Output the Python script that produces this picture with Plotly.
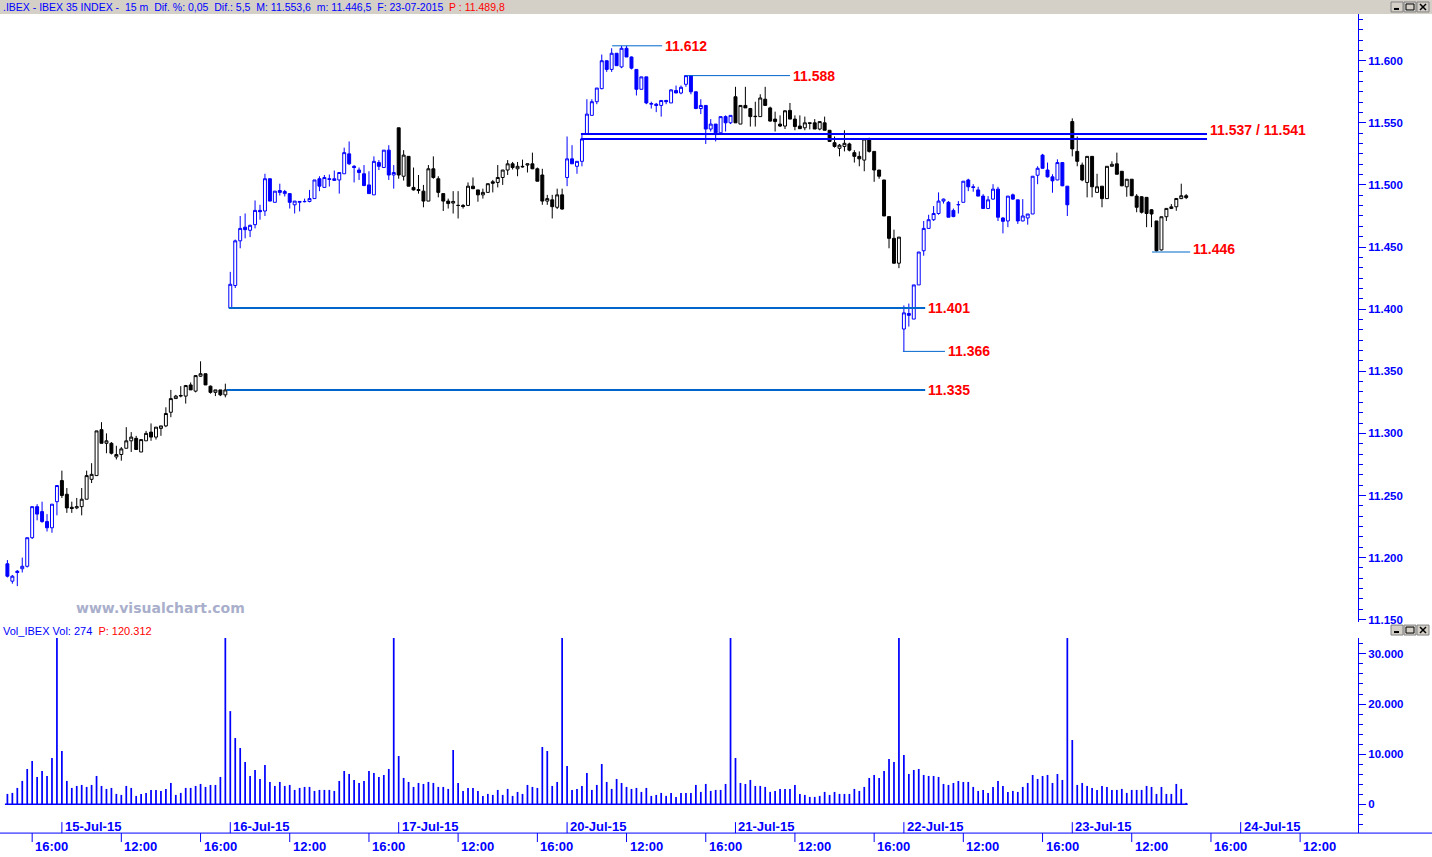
import plotly.graph_objects as go

W, H = 1432, 857

# ---------------- data ----------------
session_labels = ['14-Jul-15', '15-Jul-15', '16-Jul-15', '17-Jul-15', '20-Jul-15',
                  '21-Jul-15', '22-Jul-15', '23-Jul-15', '24-Jul-15']
first_session_bars = 11          # 14-Jul: 14:45 .. 17:15
bars_per_session = 34            # 09:00 .. 17:15, 15 m bars
time_tick_labels = ['12:00', '16:00']

opens = [11195, 11181, 11189, 11191, 11193, 11216, 11241, 11237, 11229, 11224, 11245,
         11262, 11251, 11240.5, 11240, 11241, 11247, 11263, 11266, 11303, 11292, 11292, 11281, 11283, 11288, 11294, 11296, 11285, 11294, 11301, 11297, 11304, 11306, 11317, 11328, 11330, 11330, 11339, 11334, 11346, 11348, 11338, 11333, 11335, 11331,
         11401, 11419, 11455, 11466, 11463.5, 11468, 11479.5, 11479, 11505, 11486, 11495.5, 11493, 11493, 11484, 11486, 11486.5, 11486.7, 11489, 11505, 11498, 11505, 11503.6, 11504, 11509, 11525, 11515, 11512, 11509, 11500, 11492, 11518, 11514, 11528, 11508,
         11546, 11507, 11523, 11498, 11496.3, 11495, 11487, 11513, 11505, 11493, 11487, 11485.4, 11483.5, 11483.5, 11483.5, 11499, 11496, 11492, 11494, 11502.5, 11502, 11506, 11512, 11517, 11513, 11515, 11516, 11517, 11513, 11508, 11487, 11488, 11482, 11492,
         11506, 11521, 11515, 11519, 11541, 11556, 11567, 11577.5, 11600, 11593, 11606, 11595, 11610, 11603, 11593, 11577, 11587, 11565, 11565, 11564, 11568, 11566, 11576, 11574, 11581, 11588, 11575, 11561.5, 11564, 11545, 11549, 11542, 11555, 11550,
         11571, 11549, 11564, 11561.5, 11555, 11555, 11569, 11562, 11553, 11549, 11547.4, 11560, 11553, 11547.4, 11546, 11550, 11550, 11545, 11550, 11544, 11534, 11529.5, 11531, 11533, 11526, 11523, 11520, 11537, 11527, 11512, 11504, 11474.5, 11457, 11437,
         11384, 11396.5, 11392, 11419.5, 11447, 11465, 11472, 11477, 11487, 11486, 11479.5, 11484, 11486, 11504, 11498.5, 11496, 11491, 11481, 11488.6, 11496.6, 11473.4, 11471, 11492, 11488, 11471, 11473.4, 11476.6, 11507.8, 11524, 11512, 11506.5, 11504, 11518, 11499,
         11551, 11527, 11516, 11502, 11523, 11494, 11499, 11489, 11515, 11517, 11511, 11498.5, 11504.6, 11491, 11490.5, 11490, 11480, 11471, 11447.7, 11474.4, 11481, 11482.4, 11489, 11491.3]
highs = [11198, 11186, 11190, 11200, 11216, 11241, 11243, 11245, 11235, 11243, 11258,
         11270, 11256, 11245, 11248, 11256, 11270, 11276, 11302, 11309, 11300, 11293, 11290, 11289, 11305, 11301, 11298, 11295, 11302, 11308, 11305, 11306, 11321, 11335, 11331, 11338, 11339, 11341, 11347, 11358, 11348, 11338.5, 11335, 11335, 11340,
         11430, 11456, 11475, 11477, 11468, 11487.5, 11484, 11509, 11505, 11495, 11501, 11496, 11493, 11487, 11487, 11489, 11496, 11504, 11507, 11508, 11508.4, 11511.6, 11510, 11530, 11535, 11516, 11514, 11516, 11511, 11523, 11520, 11528, 11532, 11516,
         11546, 11528, 11523, 11514, 11508, 11500, 11516, 11523, 11507, 11493, 11489, 11495, 11495, 11484.6, 11502, 11506, 11496, 11497, 11501, 11504, 11516, 11512, 11520, 11518.5, 11518.5, 11520.4, 11517, 11526, 11514, 11513, 11492, 11492, 11497, 11497,
         11539, 11532, 11519, 11541, 11569, 11569, 11578, 11605, 11600, 11610, 11606, 11612, 11612, 11603.4, 11593, 11587, 11587, 11567, 11566, 11568, 11568.5, 11577, 11580, 11580, 11588, 11588, 11575, 11569, 11564, 11553, 11549, 11555, 11556, 11556,
         11579, 11564, 11579, 11562, 11567, 11573, 11579, 11563, 11559, 11556, 11560, 11566, 11556, 11556, 11555, 11550, 11553, 11551, 11555, 11544, 11539, 11533, 11544, 11534, 11528, 11527, 11537, 11538, 11527, 11512, 11504, 11474.5, 11464, 11458,
         11403, 11404.5, 11419.5, 11446, 11471, 11476, 11483, 11494, 11489, 11487, 11481, 11487, 11503, 11505, 11500.6, 11498.5, 11492.6, 11491, 11500.6, 11498.5, 11474, 11491, 11493, 11488, 11488.6, 11476.6, 11507, 11515, 11525, 11518, 11508.6, 11520.6, 11518, 11499,
         11553.6, 11539, 11518, 11523, 11523, 11509, 11499, 11515, 11519, 11526, 11511, 11504.6, 11504.6, 11492.6, 11491, 11490, 11480.6, 11471, 11474.4, 11481.1, 11484.6, 11489.1, 11501, 11492.6]
lows = [11184, 11179, 11177, 11188, 11192, 11215, 11230, 11228, 11221, 11220, 11234,
        11248, 11236, 11236, 11239, 11234, 11247, 11260, 11266, 11292, 11284, 11283, 11279, 11278, 11288, 11285, 11287, 11285, 11294, 11294, 11295, 11298, 11305, 11313, 11328, 11329, 11324, 11335, 11333, 11345.5, 11339, 11332, 11330, 11330, 11329,
        11401, 11417, 11449, 11457, 11458, 11465, 11472, 11475, 11487, 11486, 11491.5, 11490.7, 11481, 11477, 11478.7, 11486, 11486, 11489, 11495, 11498, 11498.7, 11503.6, 11493, 11509, 11516, 11502, 11504, 11499, 11493, 11492, 11512, 11514, 11504, 11497,
        11505, 11503.5, 11499, 11495.5, 11493, 11482, 11487, 11505, 11490, 11479, 11481, 11477, 11473, 11481, 11483, 11496.6, 11486.5, 11489, 11494, 11494, 11498, 11500, 11508, 11512.4, 11507, 11514, 11510, 11512.7, 11503, 11484, 11484, 11473, 11480.6, 11480,
        11499, 11517, 11509, 11515, 11541, 11556, 11565, 11577, 11591, 11591, 11596, 11594, 11603, 11593, 11572, 11577, 11565, 11561.5, 11558.6, 11555, 11565, 11566, 11574, 11573, 11579, 11573, 11561, 11557, 11533, 11543, 11535, 11542, 11543, 11549,
        11550, 11549, 11562, 11547, 11547, 11555, 11564, 11551, 11543, 11546.6, 11545, 11553, 11544, 11545, 11544, 11544.7, 11545, 11544, 11544, 11535, 11530, 11523, 11527, 11527, 11518, 11515, 11511, 11526, 11502.5, 11505, 11475, 11449, 11436.6, 11433,
        11366, 11386, 11392, 11419.5, 11443, 11465, 11471, 11476, 11485, 11474, 11474, 11477, 11486, 11495, 11494.5, 11491, 11481, 11480.6, 11488, 11471, 11461, 11466, 11488, 11468.6, 11470.7, 11468, 11476.6, 11500.6, 11513, 11506, 11493.7, 11503.8, 11499, 11475,
        11523, 11515, 11503, 11490, 11490, 11494, 11482, 11489, 11515, 11508.6, 11499, 11490.5, 11491, 11478, 11477, 11466, 11466, 11446.5, 11447.2, 11471, 11480.6, 11479.2, 11488.6, 11488.6]
closes = [11185, 11185, 11188, 11193, 11216, 11241, 11235, 11229, 11224, 11243, 11258,
          11250, 11240, 11239.5, 11241, 11247, 11266, 11267, 11302, 11292, 11294, 11284, 11283, 11287.5, 11294, 11297, 11287, 11295, 11300, 11297, 11305, 11306, 11316, 11328, 11330, 11330.5, 11338.5, 11335, 11346.5, 11348, 11339, 11333, 11335, 11331, 11335,
          11420, 11455, 11465, 11464, 11467.5, 11479.5, 11478.5, 11505, 11487, 11495, 11494, 11494.7, 11486, 11487, 11486.7, 11486.7, 11489, 11504, 11499, 11506, 11504.5, 11505, 11510, 11526, 11517, 11514, 11510, 11499.5, 11493, 11519, 11515, 11528, 11508, 11510,
          11508, 11524, 11499, 11496, 11495.5, 11487, 11513, 11506, 11494, 11487, 11485, 11486.7, 11483.5, 11482.7, 11499, 11497, 11492, 11494, 11501, 11501.4, 11506, 11512, 11517, 11514, 11515, 11514.6, 11517, 11513, 11503, 11487, 11489, 11482.5, 11492, 11480.6,
          11521, 11517, 11519, 11537, 11557, 11567, 11578, 11600, 11593, 11606, 11596, 11610, 11603, 11594, 11577, 11587, 11566, 11565.5, 11564, 11568, 11567, 11576.5, 11574, 11578.6, 11588, 11575, 11561.5, 11564, 11545, 11549, 11542, 11555, 11550, 11556,
          11550, 11564, 11562, 11555, 11555.2, 11570, 11564, 11551.4, 11551, 11547.4, 11559.7, 11553, 11547, 11545.3, 11550, 11549.6, 11545, 11551, 11544, 11535, 11531, 11532, 11533.5, 11528, 11523, 11521, 11537, 11527, 11512, 11507, 11475, 11457, 11437, 11458,
          11397, 11395, 11419.5, 11446, 11465, 11472, 11477, 11487, 11488.6, 11474, 11474.5, 11484.2, 11503, 11498.5, 11498, 11491, 11481, 11488, 11496.6, 11474, 11470.7, 11491, 11488.6, 11471, 11475, 11476.6, 11507, 11513.4, 11513.4, 11506.5, 11503.3, 11518, 11499.3, 11484,
          11529, 11519, 11504, 11523, 11498.5, 11498.5, 11489, 11515, 11516.6, 11508.6, 11499.3, 11504.6, 11491.3, 11482, 11478, 11477, 11476.6, 11447, 11474.4, 11481.1, 11482.4, 11489.1, 11491.3, 11489.8]
volumes = [2058, 2258, 3254, 4648, 7038, 8632, 5445, 6640, 5644, 9230, 40000,
           10624, 4648, 3254, 3652, 3851, 3453, 3851, 5644, 3652, 3054, 3254, 2058, 1859, 3652, 3254, 1660, 2058, 2258, 2855, 2855, 2656, 3054, 4250, 1859, 2258, 3254, 3254, 3652, 4050, 3453, 3851, 3851, 5445, 40000,
           18592, 13214, 11222, 8433, 5644, 6839, 5046, 7835, 4449, 3652, 4449, 3652, 3851, 2855, 3254, 3453, 3453, 2656, 2855, 2855, 2855, 2656, 4648, 6640, 6042, 4847, 4250, 4648, 6640, 6242, 5445, 5843, 7038, 40000,
           9628, 5246, 4449, 3453, 4250, 4050, 4449, 4250, 3453, 3453, 3054, 10823, 4250, 2656, 3254, 3254, 2656, 1660, 2058, 1859, 2855, 1859, 3054, 1660, 2457, 2058, 3851, 3453, 3254, 11421, 10624, 3652, 4449, 40000,
           7636, 2855, 3054, 3652, 6242, 2855, 3851, 8035, 4449, 3054, 5046, 4250, 3453, 3054, 3254, 2457, 3254, 1660, 1859, 2258, 1660, 2258, 1461, 2258, 2258, 2258, 3851, 2457, 4050, 2656, 2855, 2855, 4050, 40000,
           9230, 4250, 4050, 4847, 3652, 3652, 3453, 2457, 2656, 3054, 3054, 3054, 3851, 2058, 1859, 1461, 1461, 1660, 2457, 1859, 2457, 2058, 2058, 2058, 3054, 2656, 3453, 5246, 5843, 5246, 6640, 9030, 8433, 40000,
           9827, 6042, 6839, 7038, 5843, 5644, 5644, 5445, 4050, 3851, 4250, 4648, 4449, 4449, 3453, 2656, 2855, 2258, 3453, 4648, 3652, 2457, 2656, 2457, 3453, 4250, 5843, 5046, 5644, 5843, 4250, 6042, 4847, 40000,
           12815, 3851, 4250, 3652, 3254, 2855, 3652, 3453, 2855, 2855, 3054, 2258, 2855, 2855, 2855, 3652, 3453, 2058, 3453, 2058, 2058, 4050, 3054, 274]

level_values = [11612, 11588, 11541, 11537, 11401, 11366, 11335, 11446]
level_from_bar = [122.1, 137.0, 115.8, 115.8, 44.7, 180.8, 44.3, 231.1]
level_to_bar = [132.2, 158.0, 242.2, 242.2, 185.3, 189.3, 185.3, 238.8]
level_label_of = [0, 1, 2, None, 4, 5, 6, 7]   # which level carries a text label

price_ticks = [11150, 11200, 11250, 11300, 11350, 11400, 11450, 11500, 11550, 11600]
volume_ticks = [0, 10000, 20000, 30000]

title_text = '.IBEX - IBEX 35 INDEX -  15 m  Dif. %: 0,05  Dif.: 5,5  M: 11.553,6  m: 11.446,5  F: 23-07-2015  '
title_last = 'P : 11.489,8'
vol_title = 'Vol_IBEX Vol: 274  '
vol_last = 'P: 120.312'
watermark = 'www.visualchart.com'

# ---------------- helpers ----------------
BLUE = '#0000FF'
LEVEL_BLUE = '#0066CC'
RED = '#FF0000'
FONT = 'Liberation Sans, Arial, sans-serif'


def PX(x):
    return x / W


def PY(y):
    return 1 - y / H


def fmt_thousands(v):
    return f'{int(v):,}'.replace(',', '.')


n = len(closes)
bar_session = []
for k in range(n):
    if k < first_session_bars:
        s = 0
    else:
        s = 1 + (k - first_session_bars) // bars_per_session
    bar_session.append(s)

# pixel geometry of the plotting window
PLOT_RIGHT = 1358
BAR_PX = 168.4 / bars_per_session
BAR0_PX = 7.4
x_range = [-BAR0_PX / BAR_PX, (PLOT_RIGHT - BAR0_PX) / BAR_PX]

fig = go.Figure()

# candles, one trace per session (colour alternates by session)
for s in range(len(session_labels)):
    idx = [k for k in range(n) if bar_session[k] == s]
    if not idx:
        continue
    col = BLUE if s % 2 == 0 else '#000000'
    fig.add_trace(go.Candlestick(
        x=idx,
        open=[opens[k] for k in idx], high=[highs[k] for k in idx],
        low=[lows[k] for k in idx], close=[closes[k] for k in idx],
        increasing=dict(line=dict(color=col, width=1), fillcolor='#FFFFFF'),
        decreasing=dict(line=dict(color=col, width=1), fillcolor=col),
        whiskerwidth=0, xaxis='x', yaxis='y', hoverinfo='skip', showlegend=False))

# horizontal levels
annotations = []
for i, v in enumerate(level_values):
    pair = v in (11541, 11537)
    col = BLUE if pair else LEVEL_BLUE
    width = 2 if (pair or v in (11401, 11335)) else 1
    fig.add_trace(go.Scatter(x=[level_from_bar[i], level_to_bar[i]], y=[v, v], mode='lines',
                             line=dict(color=col, width=width), xaxis='x', yaxis='y',
                             hoverinfo='skip', showlegend=False))
for i, v in enumerate(level_values):
    if level_label_of[i] is None:
        continue
    if v == 11541:
        txt = fmt_thousands(11537) + ' / ' + fmt_thousands(11541)
        ysh = 4
    else:
        txt = fmt_thousands(v)
        ysh = 3 if v == 11446 else 0
    annotations.append(dict(x=level_to_bar[i], y=v, xref='x', yref='y', text=txt, showarrow=False,
                            xanchor='left', yanchor='middle', xshift=1, yshift=ysh,
                            font=dict(family=FONT, size=14, color=RED, weight='bold')))

# volume
fig.add_trace(go.Bar(x=list(range(n)), y=volumes, width=0.35, marker=dict(color=BLUE, line=dict(width=0)),
                     xaxis='x2', yaxis='y2', hoverinfo='skip', showlegend=False))

shapes = []
# volume baseline
shapes.append(dict(type='line', xref='x2', yref='y2', x0=-0.5, x1=n - 0.7, y0=0, y1=0,
                   line=dict(color=BLUE, width=1.5)))

# title bar
shapes.append(dict(type='rect', xref='paper', yref='paper', x0=0, x1=1, y0=PY(14), y1=1,
                   fillcolor='#D4D0C8', line=dict(width=0), layer='below'))


def window_buttons(ytop):
    out = []
    for j, x0 in enumerate([1391, 1404, 1417]):
        out.append(dict(type='rect', xref='paper', yref='paper', x0=PX(x0), x1=PX(x0 + 12),
                        y0=PY(ytop + 10), y1=PY(ytop), fillcolor='#D4D0C8',
                        line=dict(color='#808080', width=1)))
    out.append(dict(type='line', xref='paper', yref='paper', x0=PX(1394), x1=PX(1399),
                    y0=PY(ytop + 7), y1=PY(ytop + 7), line=dict(color='#000000', width=2)))
    out.append(dict(type='rect', xref='paper', yref='paper', x0=PX(1406), x1=PX(1414),
                    y0=PY(ytop + 8), y1=PY(ytop + 2), line=dict(color='#000000', width=1)))
    out.append(dict(type='line', xref='paper', yref='paper', x0=PX(1420), x1=PX(1426),
                    y0=PY(ytop + 2), y1=PY(ytop + 8), line=dict(color='#000000', width=1.5)))
    out.append(dict(type='line', xref='paper', yref='paper', x0=PX(1420), x1=PX(1426),
                    y0=PY(ytop + 8), y1=PY(ytop + 2), line=dict(color='#000000', width=1.5)))
    return out


shapes += window_buttons(2)
shapes += window_buttons(628)

# bottom time axis
shapes.append(dict(type='line', xref='paper', yref='paper', x0=0, x1=1, y0=PY(837), y1=PY(837),
                   line=dict(color=BLUE, width=1)))
for s in range(len(session_labels)):
    start = first_session_bars - bars_per_session + s * bars_per_session
    if s >= 1:
        shapes.append(dict(type='line', xref='x2', yref='paper', x0=start, x1=start,
                           y0=PY(837), y1=PY(826), line=dict(color=BLUE, width=1)))
        annotations.append(dict(x=start, y=PY(830), xref='x2', yref='paper', text=session_labels[s],
                                showarrow=False, xanchor='left', yanchor='middle', xshift=1,
                                font=dict(family=FONT, size=13, color=BLUE, weight='bold')))
    for lab in time_tick_labels:
        hh = int(lab[:2])
        k = start + (hh * 60 - 9 * 60) // 15
        if k < x_range[0] or k > x_range[1]:
            continue
        shapes.append(dict(type='line', xref='x2', yref='paper', x0=k, x1=k,
                           y0=PY(837), y1=PY(846), line=dict(color=BLUE, width=1)))
        annotations.append(dict(x=k, y=PY(850), xref='x2', yref='paper', text=lab,
                                showarrow=False, xanchor='left', yanchor='middle', xshift=1,
                                font=dict(family=FONT, size=13, color=BLUE, weight='bold')))

# titles
annotations.append(dict(x=PX(1), y=PY(7.5), xref='paper', yref='paper', showarrow=False,
                        xanchor='left', yanchor='middle',
                        text=f'<span style="color:{BLUE}">{title_text}</span><span style="color:{RED}">{title_last}</span>',
                        font=dict(family=FONT, size=10.5, color=BLUE)))
annotations.append(dict(x=PX(1), y=PY(634), xref='paper', yref='paper', showarrow=False,
                        xanchor='left', yanchor='middle',
                        text=f'<span style="color:{BLUE}">{vol_title}</span><span style="color:{RED}">{vol_last}</span>',
                        font=dict(family=FONT, size=11, color=BLUE)))
annotations.append(dict(x=PX(160), y=PY(611), xref='paper', yref='paper', showarrow=False,
                        xanchor='center', yanchor='middle', text=watermark,
                        font=dict(family='DejaVu Sans, Verdana, sans-serif', size=14, color='#A9AFCB', weight='bold')))

axis_font = dict(family=FONT, size=11.5, color=BLUE, weight='bold')
fig.update_layout(
    width=W, height=H, margin=dict(l=0, r=0, t=0, b=0),
    paper_bgcolor='#FFFFFF', plot_bgcolor='#FFFFFF', showlegend=False, hovermode=False,
    boxgap=0.15,
    xaxis=dict(domain=[0, PX(PLOT_RIGHT)], range=x_range, showgrid=False, zeroline=False,
               showticklabels=False, ticks='', showline=False, rangeslider=dict(visible=False),
               anchor='y'),
    yaxis=dict(domain=[PY(625), PY(14)], range=[11600 - (625 - 61) / 1.248, 11600 + (61 - 14) / 1.248],
               side='right', anchor='x', showgrid=False, zeroline=False, showline=True,
               linecolor=BLUE, linewidth=1, ticks='outside', ticklen=7, tickcolor=BLUE,
               tickvals=price_ticks, ticktext=[fmt_thousands(v) for v in price_ticks],
               tickfont=axis_font,
               minor=dict(tickmode='linear', tick0=11150, dtick=50 / 6, ticks='outside', ticklen=4,
                          tickcolor=BLUE, showgrid=False)),
    xaxis2=dict(domain=[0, PX(PLOT_RIGHT)], range=x_range, showgrid=False, zeroline=False,
                showticklabels=False, ticks='', showline=False, anchor='y2',
                rangeslider=dict(visible=False)),
    yaxis2=dict(domain=[PY(837), PY(641)], range=[-(837 - 808) / 5.033 * 1000, (808 - 641) / 5.033 * 1000],
                side='right', anchor='x2', showgrid=False, zeroline=False, showline=True,
                linecolor=BLUE, linewidth=1, ticks='outside', ticklen=7, tickcolor=BLUE,
                tickvals=volume_ticks, ticktext=[fmt_thousands(v) for v in volume_ticks],
                tickfont=axis_font,
                minor=dict(tickmode='linear', tick0=0, dtick=2000, ticks='outside', ticklen=4,
                           tickcolor=BLUE, showgrid=False)),
    shapes=shapes, annotations=annotations,
)

fig.write_html('out.html', config={'displayModeBar': False, 'staticPlot': True},
               post_script="document.body.style.margin='0';document.body.style.overflow='hidden';")
